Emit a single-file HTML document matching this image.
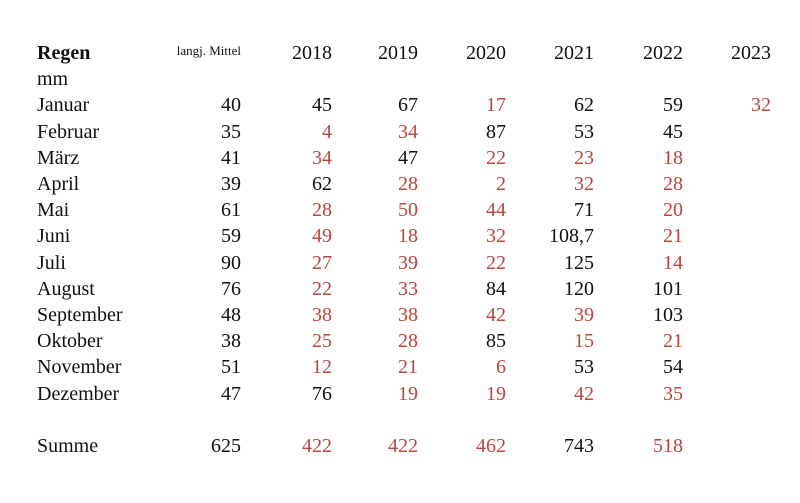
<!DOCTYPE html>
<html><head><meta charset="utf-8"><style>
body{margin:0;background:#fff;width:800px;height:503px;overflow:hidden}
table{position:absolute;left:37px;top:40px;border-collapse:collapse;table-layout:fixed;font-family:"Liberation Serif",serif;font-size:20px;color:#111}
td{padding:0;height:26.2px;line-height:26.2px;text-align:right;white-space:nowrap}
td:first-child{text-align:left;position:relative}
.r{color:#b8463c}
.lm{font-size:13px}
</style></head><body>
<table>
<colgroup><col style="width:204px"><col style="width:91px"><col style="width:86px"><col style="width:88px"><col style="width:88px"><col style="width:89px"><col style="width:88px"></colgroup>
<tr><td><b>Regen</b><span class="lm" style="position:absolute;right:0;top:-2px">langj. Mittel</span></td><td>2018</td><td>2019</td><td>2020</td><td>2021</td><td>2022</td><td>2023</td></tr>
<tr><td>mm</td><td></td><td></td><td></td><td></td><td></td><td></td></tr>
<tr><td>Januar<span style="position:absolute;right:0">40</span></td><td>45</td><td>67</td><td class="r">17</td><td>62</td><td>59</td><td class="r">32</td></tr>
<tr><td>Februar<span style="position:absolute;right:0">35</span></td><td class="r">4</td><td class="r">34</td><td>87</td><td>53</td><td>45</td><td></td></tr>
<tr><td>März<span style="position:absolute;right:0">41</span></td><td class="r">34</td><td>47</td><td class="r">22</td><td class="r">23</td><td class="r">18</td><td></td></tr>
<tr><td>April<span style="position:absolute;right:0">39</span></td><td>62</td><td class="r">28</td><td class="r">2</td><td class="r">32</td><td class="r">28</td><td></td></tr>
<tr><td>Mai<span style="position:absolute;right:0">61</span></td><td class="r">28</td><td class="r">50</td><td class="r">44</td><td>71</td><td class="r">20</td><td></td></tr>
<tr><td>Juni<span style="position:absolute;right:0">59</span></td><td class="r">49</td><td class="r">18</td><td class="r">32</td><td>108,7</td><td class="r">21</td><td></td></tr>
<tr><td>Juli<span style="position:absolute;right:0">90</span></td><td class="r">27</td><td class="r">39</td><td class="r">22</td><td>125</td><td class="r">14</td><td></td></tr>
<tr><td>August<span style="position:absolute;right:0">76</span></td><td class="r">22</td><td class="r">33</td><td>84</td><td>120</td><td>101</td><td></td></tr>
<tr><td>September<span style="position:absolute;right:0">48</span></td><td class="r">38</td><td class="r">38</td><td class="r">42</td><td class="r">39</td><td>103</td><td></td></tr>
<tr><td>Oktober<span style="position:absolute;right:0">38</span></td><td class="r">25</td><td class="r">28</td><td>85</td><td class="r">15</td><td class="r">21</td><td></td></tr>
<tr><td>November<span style="position:absolute;right:0">51</span></td><td class="r">12</td><td class="r">21</td><td class="r">6</td><td>53</td><td>54</td><td></td></tr>
<tr><td>Dezember<span style="position:absolute;right:0">47</span></td><td>76</td><td class="r">19</td><td class="r">19</td><td class="r">42</td><td class="r">35</td><td></td></tr>
<tr><td></td><td></td><td></td><td></td><td></td><td></td><td></td></tr>
<tr><td>Summe<span style="position:absolute;right:0">625</span></td><td class="r">422</td><td class="r">422</td><td class="r">462</td><td>743</td><td class="r">518</td><td></td></tr>
</table>
</body></html>
